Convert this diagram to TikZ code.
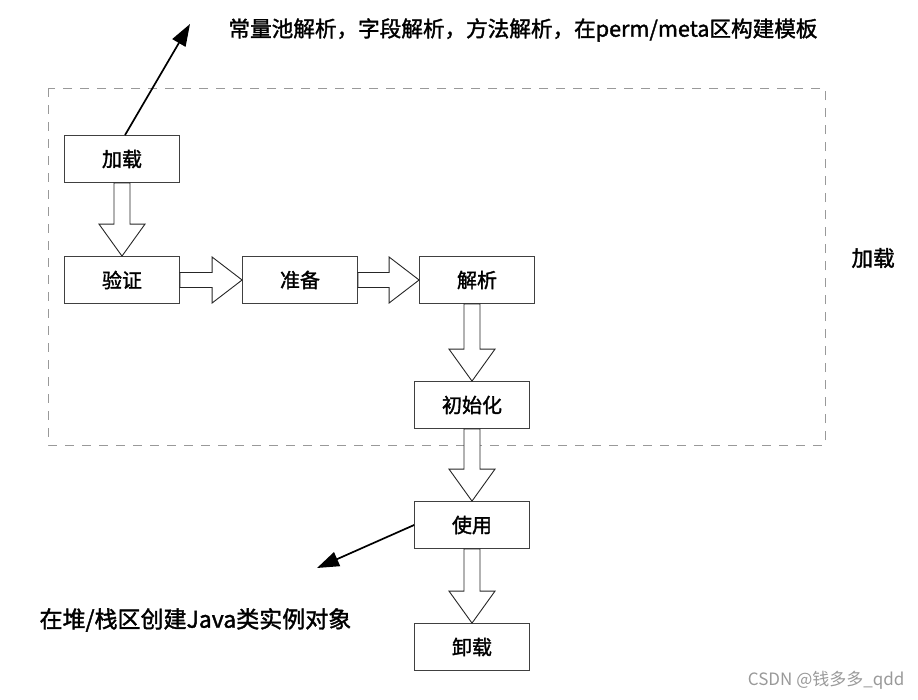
\documentclass[tikz,border=0pt]{standalone}
\usepackage{fontspec}
\setmainfont{Noto Sans CJK SC}[AutoFakeBold=1.6]
\usepackage{tikz}
\usetikzlibrary{arrows.meta,calc}
\tikzstyle{stage}=[rectangle, draw=black!75, line width=0.8pt, minimum width=115pt, minimum height=47pt,
        text centered, font=\fontsize{20}{24}\selectfont\bfseries, text=black]
\tikzstyle{note}=[anchor=west, font=\fontsize{21.6}{24}\selectfont\bfseries, text=black]
\tikzstyle{hollow}=[draw=black!85, line width=0.9pt, fill=white, line join=miter]
\tikzstyle{thinarrow}=[draw=black, line width=1.7pt, -{Triangle[length=22pt,width=15pt]}]
% hollow block arrows between two stages
\newcommand\downblock[2]{\draw[hollow] ($(#2.north |- #1.south)+(-8,0)$)
  -- ($(#2.north)+(-8,-32)$) -- ($(#2.north)+(-23,-32)$) -- (#2.north)
  -- ($(#2.north)+(23,-32)$) -- ($(#2.north)+(8,-32)$) -- ($(#2.north |- #1.south)+(8,0)$) -- cycle;}
\newcommand\rightblock[2]{\draw[hollow] ($(#1.east)+(0,7.5)$)
  -- ($(#2.west)+(-30,7.5)$) -- ($(#2.west)+(-30,23)$) -- (#2.west)
  -- ($(#2.west)+(-30,-23)$) -- ($(#2.west)+(-30,-7.5)$) -- ($(#1.east)+(0,-7.5)$) -- cycle;}

\begin{document}
\begin{tikzpicture}[x=1pt, y=-1pt]
\useasboundingbox (0,0) rectangle (918,699);

% the loading phase
\draw[gray!80, line width=0.8pt, dash pattern=on 9pt off 8pt] (48,88) rectangle (825,445);
\node[note] (phase) at (848,258) {加载};

\node [stage] (load) at (122,159) {加载};
\node [stage] (verify) at (122,280) {验证};
\node [stage] (prepare) at (300,280) {准备};
\node [stage] (resolve) at (477,280) {解析};
\node [stage] (init) at (472,405) {初始化};
\node [stage] (use) at (472,525) {使用};
\node [stage] (unload) at (472,647) {卸载};

\downblock{load}{verify}
\rightblock{verify}{prepare}
\rightblock{prepare}{resolve}
\downblock{resolve}{init}
\downblock{init}{use}
\downblock{use}{unload}

% notes
\coordinate (upend) at (190,24);
\node[note] (constpool) at (225,30) {常量池解析，字段解析，方法解析，在perm/meta区构建模板};
\draw[thinarrow] ($(load.north)+(3,0)$) -- (upend);

\coordinate (leftend) at (317,568);
\node[note, font=\fontsize{23}{26}\selectfont\bfseries] (heap) at (36,620) {在堆/栈区创建Java类实例对象};
\draw[thinarrow] (use.west) -- (leftend);

\node[anchor=east, font=\fontsize{17}{20}\selectfont, text=black!40] (mark) at (908,680) {CSDN @钱多多\_qdd};
\end{tikzpicture}
\end{document}
